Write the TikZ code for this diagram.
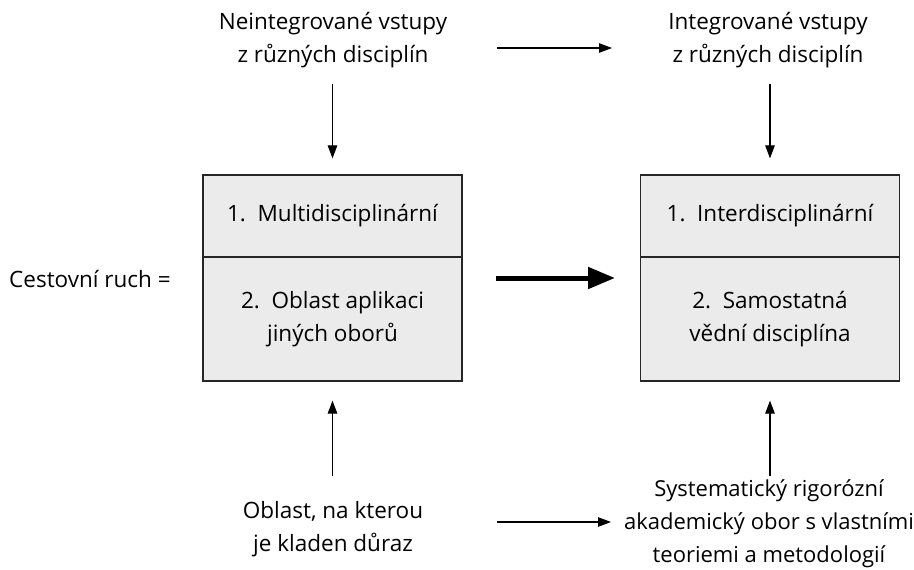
\documentclass[tikz,border=0pt]{standalone}
\usepackage{fontspec}
\setmainfont{Open Sans}
\usetikzlibrary{arrows.meta}
\begin{document}
\begin{tikzpicture}[x=1pt,y=-1pt,
  every node/.style={font=\fontsize{22.5}{33}\selectfont, inner sep=0pt},
  txt/.style={align=center},
  boxpart/.style={draw=black!85, line width=1.2pt, fill=black!8, minimum width=259pt, align=center},
  thinarrow/.style={line width=1.1pt, -{Triangle[length=13pt,width=9.5pt]}},
  thickarrow/.style={line width=5pt, -{Triangle[length=27pt,width=21pt]}}
]
\useasboundingbox (0,0) rectangle (914,570);
% boxes
\node[boxpart, minimum height=82pt] (b1a) at (332.5,216) {1.\ \ Multidisciplinární};
\node[boxpart, minimum height=124pt] (b1b) at (332.5,319) {2.\ \ Oblast aplikaci\\jiných oborů};
\node[boxpart, minimum height=82pt] (b2a) at (770,216) {1.\ \ Interdisciplinární};
\node[boxpart, minimum height=124pt] (b2b) at (770,319) {2.\ \ Samostatná\\vědní disciplína};
% texts
\node[txt] (lt) at (333,40) {Neintegrované vstupy\\z různých disciplín};
\node[txt] (rt) at (768,40) {Integrované vstupy\\z různých disciplín};
\node[txt] (lb) at (333,529) {Oblast, na kterou\\je kladen důraz};
\node[txt, font=\fontsize{22}{33}\selectfont] (rb) at (769,524) {Systematický rigorózní\\akademický obor s vlastními\\teoriemi a metodologií};
\node[anchor=west] (cr) at (9,279) {Cestovní ruch =};
% arrow ends
\coordinate (t1) at (497,48);
\coordinate (t2) at (612,48);
\coordinate (m1) at (496,278);
\coordinate (m2) at (615,278);
\coordinate (u1) at (497,522);
\coordinate (u2) at (611,522);
% connectors
\draw[thinarrow] ([yshift=90pt]b1a.north) -- ([yshift=16pt]b1a.north);
\draw[thinarrow] ([yshift=90pt]b2a.north) -- ([yshift=16pt]b2a.north);
\draw[thinarrow] ([yshift=-94pt]b1b.south) -- ([yshift=-19pt]b1b.south);
\draw[thinarrow] ([yshift=-94pt]b2b.south) -- ([yshift=-19pt]b2b.south);
\draw[thinarrow] (t1) -- (t2);
\draw[thinarrow] (u1) -- (u2);
\draw[thickarrow] (m1) -- (m2);
\end{tikzpicture}
\end{document}
